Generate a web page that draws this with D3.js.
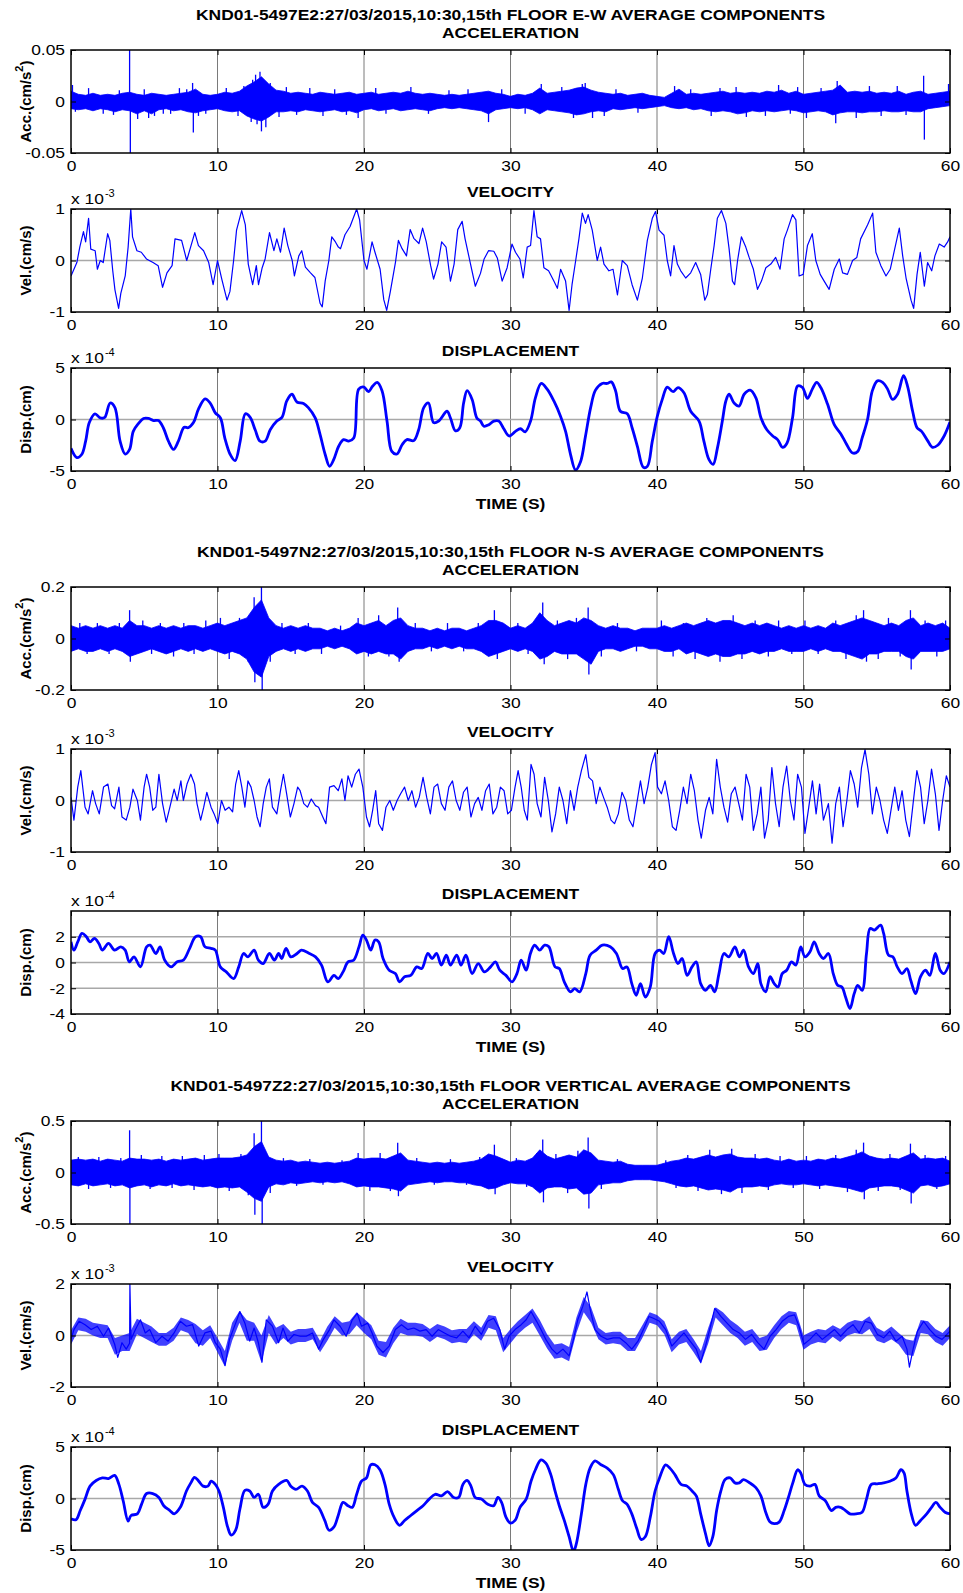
<!DOCTYPE html>
<html lang="en">
<head>
<meta charset="UTF-8">
<title>KND01-5497 15th floor average components</title>
<script src="https://d3js.org/d3.v7.min.js"></script>
<style>
  body { margin: 0; background: #fff; }
  text { font-family: "Liberation Sans", Arial, sans-serif; }
</style>
</head>
<body>
<script>
// ---------- data ----------
var xTicks = [0, 10, 20, 30, 40, 50, 60];
var xGrid = [10, 20, 30, 40, 50];

var titles = [
  "KND01-5497E2:27/03/2015,10:30,15th FLOOR E-W AVERAGE COMPONENTS",
  "KND01-5497N2:27/03/2015,10:30,15th FLOOR N-S AVERAGE COMPONENTS",
  "KND01-5497Z2:27/03/2015,10:30,15th FLOOR VERTICAL AVERAGE COMPONENTS"
];

// acceleration envelopes, one value every 0.5 s (0..60 s)
// E-W in units of 1e-3 cm/s2
var accEWhi = [10,7,6,8,6,7,6,8,9,7, 6,8,7,6,7,8,9,12,7,6, 7,9,8,10,15,19,24,17,11,10,
  8,9,8,7,9,8,7,8,9,7, 8,9,7,8,9,8,10,8,7,8, 7,6,7,6,7,8,9,10,8,7,
  5,7,6,8,13,8,9,10,11,13, 14,11,9,8,7,8,6,7,8,6, 5,4,8,12,7,8,7,8,9,10,
  8,9,8,9,8,10,9,11,8,10, 7,8,9,10,11,16,9,10,9,10, 8,9,8,10,7,9,10,7,8,9, 10];
var accEWlo = [-7,-8,-7,-9,-7,-8,-10,-8,-9,-12, -9,-12,-8,-7,-9,-8,-10,-11,-9,-8,
  -7,-9,-10,-9,-14,-17,-19,-15,-10,-10, -9,-10,-8,-9,-10,-9,-8,-10,-9,-11,
  -8,-7,-9,-8,-7,-9,-8,-7,-8,-9, -7,-6,-7,-6,-7,-8,-9,-12,-8,-7,
  -6,-7,-6,-8,-12,-8,-9,-10,-11,-13, -12,-10,-9,-10,-7,-8,-7,-6,-7,-6,
  -5,-4,-6,-7,-6,-8,-7,-9,-10,-9, -10,-12,-11,-9,-10,-9,-10,-9,-8,-9,
  -11,-10,-9,-10,-13,-11,-10,-10,-11,-10, -10,-9,-10,-10,-9,-10,-10,-7,-6,-5, -4];
var accEWspikes = [[0.1,16],[0.3,-10],[1.2,13],[2.2,-12],[2.9,-13],[3.3,11],[4.0,50],[4.05,-50],
  [4.55,-17],[5.0,12],[5.3,-16],[5.7,-14],[6.3,-12],[6.8,-12],[7.4,13],[7.9,12],[8.3,18],[8.35,-30],
  [8.7,-14],[9.2,-12],[10.6,13],[11.4,-14],[11.8,15],[12.3,-20],[12.4,21],[12.6,26],[12.7,-22],
  [12.9,29],[13.0,-29],[13.3,-25],[13.6,18],[14.2,-15],[14.7,14],[15.4,-13],[16.3,13],[17.2,-14],
  [18.0,12],[18.8,-13],[19.6,-16],[20.8,13],[21.5,-12],[23.2,14],[24.4,-12],[25.8,11],[27.1,12],
  [28.5,-20],[29.4,12],[31.0,-12],[32.1,17],[33.5,14],[34.3,-16],[34.9,17],[35.1,18],[35.6,-16],
  [36.4,-14],[37.2,12],[38.7,-11],[41.2,15],[42.3,12],[43.7,-14],[44.3,13],[45.4,14],[46.1,-15],
  [47.4,-14],[48.3,16],[49.1,-12],[49.6,14],[50.2,-16],[51.2,13],[52.2,-21],[52.3,20],[53.6,-16],
  [54.5,15],[55.3,-14],[56.4,15],[57.0,-13],[58.2,25],[58.25,-37],[59.9,17]];

// N-S in units of 1e-2 cm/s2
var accNShi = [5,4,5,4,5,4,5,4,7,5, 5,4,5,4,5,4,5,5,4,5, 6,5,6,7,8,12,15,8,5,4,
  5,4,5,4,4,3,4,3,4,6, 5,6,7,5,7,8,5,4,4,3, 4,3,4,4,3,4,5,7,7,6,
  4,5,4,6,10,7,5,6,7,6, 8,7,5,4,5,4,4,3,4,4, 4,5,4,5,6,5,6,7,6,7,
  7,6,5,6,5,6,5,4,5,4, 5,4,5,4,6,5,6,7,8,7, 6,5,6,5,7,8,5,6,5,6, 4];
var accNSlo = [-5,-4,-5,-5,-4,-5,-4,-5,-7,-6, -5,-4,-5,-6,-5,-4,-5,-4,-5,-4,
  -5,-6,-5,-6,-8,-13,-15,-7,-5,-4, -5,-4,-5,-4,-4,-3,-4,-3,-4,-6,
  -5,-6,-5,-6,-6,-8,-5,-4,-4,-3, -4,-3,-4,-3,-4,-4,-5,-7,-6,-5,
  -4,-5,-4,-5,-8,-7,-5,-6,-6,-6, -8,-10,-5,-4,-4,-5,-4,-3,-3,-4,
  -4,-5,-5,-4,-6,-5,-6,-7,-6,-7, -7,-6,-6,-5,-6,-5,-5,-4,-5,-5,
  -5,-4,-5,-4,-5,-5,-6,-7,-8,-6, -6,-5,-5,-5,-7,-8,-5,-5,-5,-5, -4];
var accNSspikes = [[0.6,6],[1.1,-6],[1.8,6],[2.6,-6],[3.3,6],[4.0,11],[4.05,-9],[4.9,7],[5.5,-6],
  [6.1,6],[7.0,-7],[7.7,6],[8.4,-6],[9.2,7],[10.2,8],[10.8,-8],[11.5,8],[12.1,-9],[12.5,16],
  [12.55,-17],[13.0,20],[13.05,-20],[13.6,-9],[14.4,6],[15.3,-6],[16.2,6],[17.1,-6],[18.4,5],
  [19.6,8],[20.3,-7],[21.0,9],[21.7,-7],[22.3,12],[22.4,-9],[23.5,6],[24.6,-5],[25.7,6],[26.8,-5],
  [27.8,6],[28.9,11],[29.1,-8],[30.5,6],[31.2,-6],[31.8,8],[32.2,14],[32.3,-10],[33.2,7],[33.9,-8],
  [34.5,8],[35.3,12],[35.35,-14],[36.2,-7],[37.3,6],[38.6,-5],[40.3,7],[41.1,-7],[41.8,6],[42.6,-8],
  [43.4,8],[44.3,-9],[45.2,9],[45.8,-8],[46.7,7],[47.6,-7],[48.3,7],[49.2,-6],[50.1,7],[51.0,-6],
  [52.2,7],[52.9,-8],[53.6,9],[54.1,11],[54.3,-9],[55.1,-8],[55.8,8],[56.6,-7],[57.3,11],[57.35,-12],
  [58.3,7],[59.1,-7],[59.7,7]];

// vertical in units of 1e-2 cm/s2
var accZhi = [12,13,12,13,11,13,12,11,14,13, 13,12,13,11,13,12,13,14,12,13,
  14,14,14,15,17,25,30,15,12,11, 12,10,11,10,9,10,9,10,11,14,
  13,14,14,13,16,19,12,11,10,9, 10,9,10,9,10,11,13,18,16,13,
  10,12,11,14,22,16,13,15,17,15, 22,19,12,11,10,11,8,7,7,7,
  7,9,11,12,14,13,15,17,15,17, 18,15,14,14,13,14,12,11,13,11,
  12,11,13,12,14,13,15,17,20,16, 14,13,14,13,16,19,13,14,13,14, 11];
var accZlo = [-12,-13,-11,-13,-12,-11,-13,-12,-15,-13, -12,-14,-12,-13,-11,-13,-12,-13,-14,-13,
  -15,-14,-15,-14,-19,-25,-28,-14,-11,-12, -10,-11,-10,-9,-10,-9,-10,-9,-11,-14,
  -13,-14,-14,-15,-16,-18,-12,-11,-10,-9, -10,-9,-9,-10,-10,-12,-13,-16,-15,-12,
  -10,-11,-11,-14,-20,-15,-14,-14,-16,-15, -21,-20,-12,-11,-10,-10,-8,-7,-7,-7,
  -8,-9,-11,-13,-14,-13,-15,-17,-16,-17, -19,-15,-14,-14,-13,-14,-12,-11,-12,-12,
  -11,-12,-13,-12,-13,-14,-15,-17,-19,-15, -14,-13,-13,-14,-17,-20,-13,-12,-14,-13, -11];
var accZspikes = [[0.5,15],[1.2,-16],[1.9,15],[2.7,-15],[3.4,14],[4.0,41],[4.02,-50],[4.8,17],
  [5.4,-16],[6.2,16],[6.9,-15],[7.6,16],[8.4,-17],[9.1,17],[10.1,18],[10.8,-18],[11.6,18],[12.1,-22],
  [12.5,38],[12.55,-41],[13.0,50],[13.05,-50],[13.6,-20],[14.5,14],[15.4,-13],[16.3,13],[17.2,-12],
  [18.5,12],[19.6,19],[20.4,-18],[21.1,19],[21.8,-18],[22.3,29],[22.35,-23],[23.6,14],[24.8,-12],
  [25.9,13],[27.0,-12],[27.9,15],[28.9,27],[28.95,-21],[30.4,14],[31.1,-14],[31.8,19],[32.2,32],
  [32.25,-29],[33.1,18],[33.9,-20],[34.6,21],[35.3,34],[35.35,-35],[36.2,-16],[37.3,13],[40.6,12],
  [41.3,-15],[42.1,17],[42.8,-18],[43.6,22],[44.4,-21],[45.1,23],[45.8,-20],[46.7,18],[47.6,-17],
  [48.4,16],[49.3,-15],[50.2,16],[51.1,-16],[52.2,17],[53.0,-19],[53.6,22],[54.1,29],[54.15,-26],
  [55.1,-18],[55.9,18],[56.6,-17],[57.3,28],[57.35,-30],[58.3,17],[59.1,-16],[59.7,16]];

// velocity [t (s), v (x1e-3 cm/s)]
var velEW = [[0,-0.3],[0.4,-0.04],[0.6,0.26],[0.85,0.56],[1.0,0.36],[1.2,0.82],[1.35,0.22],[1.65,0.19],
  [1.8,-0.17],[2.0,0],[2.2,-0.04],[2.5,0.52],[2.65,0.39],[2.85,-0.2],[3.0,-0.57],[3.25,-0.93],[3.4,-0.64],
  [3.7,-0.3],[3.9,0.26],[4.08,1.0],[4.2,0.46],[4.5,0.19],[4.8,0.16],[5.15,0.03],[5.6,-0.04],[5.95,-0.1],
  [6.25,-0.52],[6.55,-0.24],[6.9,-0.1],[7.1,0.42],[7.55,0.39],[7.9,0],[8.45,0.54],[8.7,0.29],[9.05,0.19],
  [9.4,-0.04],[9.7,-0.47],[10.0,0],[10.3,-0.37],[10.65,-0.77],[10.85,-0.6],[11.1,0],[11.3,0.59],[11.65,0.97],
  [11.9,0.69],[12.1,-0.07],[12.4,-0.47],[12.65,-0.1],[12.8,-0.47],[13.05,-0.14],[13.25,0.03],[13.55,0.54],
  [13.85,0.19],[14.05,0.42],[14.3,0.16],[14.55,0.63],[14.8,0.29],[15.1,0],[15.25,-0.3],[15.55,0.09],
  [15.75,0.19],[16.0,-0.13],[16.35,-0.24],[16.65,-0.33],[17.0,-0.83],[17.15,-0.9],[17.35,-0.4],[17.6,0],
  [17.8,0.46],[18.05,0.36],[18.25,0.26],[18.4,0.23],[18.7,0.5],[19.05,0.66],[19.5,1.0],[19.7,0.79],[20.0,0],
  [20.2,-0.17],[20.55,0.36],[20.75,0.16],[21.1,-0.17],[21.35,-0.76],[21.55,-0.97],[21.8,-0.6],[22.15,-0.03],
  [22.35,0.39],[22.6,0.23],[22.9,0.09],[23.15,0.6],[23.4,0.43],[23.75,0.33],[24.0,0.63],[24.25,0.36],
  [24.55,-0.1],[24.75,-0.36],[25.05,-0.07],[25.3,0.36],[25.6,0.26],[25.9,-0.4],[26.15,-0.07],[26.4,0.6],
  [26.7,0.76],[26.9,0.42],[27.25,-0.04],[27.6,-0.5],[27.95,-0.25],[28.2,0.03],[28.5,0.19],[28.86,0.18],
  [29.1,0.05],[29.43,-0.4],[29.77,-0.14],[30.1,0.32],[30.34,0.16],[30.64,0.03],[30.87,-0.34],[31.14,0.26],
  [31.37,0.29],[31.6,0.97],[31.82,0.46],[32.05,0.42],[32.28,-0.14],[32.6,-0.2],[32.96,-0.4],[33.2,-0.54],
  [33.42,-0.17],[33.76,-0.4],[34.0,-0.97],[34.2,-0.47],[34.45,0],[34.67,0.42],[34.9,0.92],[35.12,0.72],
  [35.3,0.89],[35.58,0.59],[35.92,0],[36.15,0.26],[36.38,-0.07],[36.72,-0.2],[37.0,-0.17],[37.3,-0.67],
  [37.63,0],[37.97,-0.1],[38.3,-0.47],[38.66,-0.77],[39.0,-0.34],[39.34,0.39],[39.68,0.82],[39.9,0.95],
  [40.14,0.59],[40.48,0.49],[40.7,0],[40.93,-0.3],[41.16,0.29],[41.39,-0.07],[41.62,-0.2],[41.96,-0.34],
  [42.3,-0.24],[42.64,-0.04],[42.98,-0.27],[43.26,-0.77],[43.44,-0.66],[43.67,-0.17],[43.9,0.29],[44.12,0.82],
  [44.4,0.97],[44.7,0.72],[44.92,0.23],[45.15,-0.4],[45.3,-0.47],[45.5,0],[45.76,0.46],[46.06,0.26],
  [46.29,0.06],[46.58,-0.17],[46.86,-0.56],[47.13,-0.4],[47.43,-0.14],[47.77,-0.07],[48.1,0.06],[48.4,-0.17],
  [48.68,0.42],[48.9,0.59],[49.25,0.89],[49.48,0.79],[49.7,-0.3],[49.98,-0.27],[50.27,0.29],[50.6,0.52],
  [50.84,0],[51.14,-0.27],[51.41,-0.4],[51.75,-0.56],[52.1,-0.17],[52.44,0.03],[52.67,-0.24],[53.0,-0.27],
  [53.35,0],[53.64,0.06],[53.9,0.42],[54.37,0.69],[54.72,0.92],[54.94,0.16],[55.28,-0.1],[55.63,-0.3],
  [55.92,-0.17],[56.2,0.19],[56.54,0.63],[56.77,0.09],[57.0,-0.34],[57.34,-0.77],[57.52,-0.93],[57.75,-0.27],
  [57.97,0.16],[58.25,-0.5],[58.47,-0.04],[58.75,-0.2],[58.97,0.09],[59.27,0.32],[59.6,0.26],[59.84,0.36],[60,0.46]];

var velNS = [[0,0.06],[0.2,-0.38],[0.46,0.26],[0.67,0.58],[0.96,-0.13],[1.17,-0.26],[1.47,0.19],[1.68,-0.06],
  [1.93,-0.26],[2.22,0.26],[2.52,0.32],[2.77,-0.1],[2.98,-0.16],[3.27,0.26],[3.48,-0.32],[3.77,-0.38],
  [4.02,-0.13],[4.23,0.22],[4.53,0],[4.74,-0.38],[4.99,0.26],[5.16,0.51],[5.37,0.26],[5.58,-0.19],[5.79,-0.13],
  [6.0,0.51],[6.25,-0.06],[6.5,-0.42],[6.75,-0.13],[7.04,0.22],[7.25,0],[7.5,0.38],[7.67,0],[7.92,0.32],
  [8.18,0.51],[8.43,0.32],[8.6,-0.06],[8.85,-0.38],[9.06,-0.13],[9.27,0.16],[9.56,-0.13],[9.77,-0.26],
  [10.02,-0.45],[10.27,0],[10.52,-0.19],[10.78,-0.13],[11.03,-0.22],[11.24,0.32],[11.45,0.58],[11.66,0.26],
  [11.87,-0.13],[12.08,0.38],[12.29,0.26],[12.5,0],[12.7,-0.32],[12.91,-0.51],[13.12,-0.06],[13.33,0.26],
  [13.54,0.42],[13.75,-0.13],[14.05,-0.26],[14.3,0.19],[14.5,0.51],[14.72,0.13],[14.97,-0.32],[15.22,-0.06],
  [15.47,0.26],[15.64,0.19],[15.89,-0.06],[16.14,-0.13],[16.4,0.03],[16.69,-0.1],[16.9,-0.13],[17.19,-0.32],
  [17.4,-0.45],[17.65,0.26],[17.95,0.29],[18.24,0.19],[18.49,0.42],[18.7,0],[18.91,0.48],[19.16,0.26],
  [19.41,0.51],[19.66,0.61],[19.92,0.26],[20.17,-0.32],[20.38,-0.51],[20.59,-0.19],[20.8,0.19],[21.0,-0.45],
  [21.26,-0.58],[21.5,-0.13],[21.76,0],[22.0,-0.19],[22.26,0],[22.5,0.13],[22.77,0.26],[23.02,0],[23.27,0.19],
  [23.52,-0.13],[23.77,0.06],[24.03,0.45],[24.28,0.06],[24.53,-0.26],[24.78,0.26],[25.03,0.32],[25.28,-0.06],
  [25.53,-0.19],[25.79,0.26],[26.04,0.38],[26.29,0],[26.54,-0.19],[26.79,0.16],[27.04,0.26],[27.3,-0.32],
  [27.55,-0.06],[27.8,0.06],[28.05,-0.19],[28.3,0.19],[28.55,0.32],[28.8,-0.26],[29.06,-0.13],[29.31,0.26],
  [29.56,0.19],[29.81,-0.26],[30.06,-0.19],[30.31,0.26],[30.52,0.58],[30.73,0.26],[30.94,-0.19],[31.15,-0.38],
  [31.4,0.7],[31.61,0.51],[31.82,-0.06],[32.08,-0.32],[32.33,0.45],[32.58,0],[32.83,-0.61],[33.08,-0.26],
  [33.33,0.26],[33.58,0],[33.84,-0.45],[34.09,0.19],[34.34,-0.19],[34.59,0.26],[34.84,0.58],[35.14,0.89],
  [35.35,0.45],[35.6,0.38],[35.85,-0.06],[36.1,0.26],[36.35,0.06],[36.6,-0.13],[36.86,-0.38],[37.1,-0.45],
  [37.36,-0.26],[37.61,0.16],[37.86,0],[38.11,-0.38],[38.36,-0.51],[38.62,-0.06],[38.87,0.38],[39.12,-0.06],
  [39.37,0.26],[39.62,0.7],[39.87,0.93],[40.04,0.26],[40.3,0.13],[40.55,0.38],[40.8,0],[41.05,-0.51],
  [41.3,-0.58],[41.55,-0.19],[41.8,0.26],[42.05,-0.06],[42.3,0.51],[42.55,0.19],[42.8,-0.38],[43.02,-0.73],
  [43.31,-0.19],[43.56,0.06],[43.81,-0.26],[44.07,0.8],[44.32,0.26],[44.57,-0.13],[44.82,-0.42],[45.07,0.13],
  [45.33,0.26],[45.58,-0.06],[45.83,-0.38],[46.08,0.51],[46.33,0.26],[46.58,-0.58],[46.84,-0.26],[47.09,0.26],
  [47.34,-0.73],[47.59,-0.38],[47.84,0.64],[48.09,-0.06],[48.34,-0.51],[48.6,0.26],[48.85,0.67],[49.1,0],
  [49.35,-0.38],[49.6,0.51],[49.86,0.26],[50.1,-0.64],[50.36,-0.13],[50.61,0.38],[50.86,-0.26],[51.1,0.32],
  [51.36,-0.38],[51.7,-0.06],[51.95,-0.83],[52.2,-0.06],[52.45,0.26],[52.7,-0.51],[52.96,0],[53.2,0.58],
  [53.46,0.32],[53.7,-0.13],[53.96,0.64],[54.2,0.99],[54.46,0.51],[54.7,-0.26],[54.97,0.26],[55.22,0],
  [55.47,-0.38],[55.72,-0.64],[55.97,-0.19],[56.23,0.26],[56.48,-0.19],[56.73,0.19],[56.98,-0.38],[57.23,-0.7],
  [57.48,-0.06],[57.74,0.58],[57.99,0.26],[58.24,-0.45],[58.49,0],[58.74,0.61],[59.0,0.13],[59.25,-0.58],
  [59.5,0],[59.75,0.48],[60,0.26]];

var velZ = [[0,-0.15],[0.2,0.23],[0.55,0.55],[0.96,0.42],[1.38,0.23],[1.8,0.36],[2.22,-0.03],[2.56,0.29],
  [2.98,-0.34],[3.19,-0.85],[3.48,-0.28],[3.77,-0.53],[4.0,-0.3],[4.02,2.0],[4.1,-0.15],[4.4,0.23],[4.74,0.61],
  [5.07,0.1],[5.37,0.23],[5.79,-0.28],[6.21,-0.03],[6.63,-0.22],[7.04,0.1],[7.46,0.55],[7.88,0.36],[8.3,0.42],
  [8.72,-0.41],[9.14,0.1],[9.56,0.17],[9.85,-0.28],[10.19,-0.53],[10.52,-1.17],[10.82,-0.15],[11.24,0.48],
  [11.53,0.93],[11.87,0.48],[12.2,-0.22],[12.5,0.29],[12.79,-0.28],[13.04,-1.04],[13.33,0.61],[13.75,0.36],
  [14.17,-0.28],[14.47,0.29],[14.8,-0.22],[15.22,0.04],[15.64,-0.03],[16.06,-0.03],[16.48,0.1],[16.9,-0.53],
  [17.23,-0.15],[17.65,0.23],[17.95,0.61],[18.37,0.36],[18.78,-0.03],[19.2,0.61],[19.54,0.86],[19.83,0.36],
  [20.25,0.48],[20.55,0.1],[20.88,-0.41],[21.3,-0.66],[21.72,-0.41],[22.14,0.23],[22.56,0.42],[22.98,0.23],
  [23.4,0.29],[23.82,0.17],[24.24,0.23],[24.65,-0.03],[25.07,0.23],[25.49,0.1],[25.91,-0.03],[26.33,-0.09],
  [26.75,0.17],[27.17,-0.09],[27.59,0.36],[28.01,0.04],[28.43,0.55],[28.85,0.67],[29.27,0.23],[29.6,-0.53],
  [29.9,-0.03],[30.31,0.23],[30.73,0.42],[31.07,0.61],[31.4,0.93],[31.78,0.55],[32.08,0.23],[32.41,-0.15],
  [32.83,-0.53],[33.17,-0.72],[33.58,-0.53],[34.0,-0.79],[34.3,-0.15],[34.59,0.61],[34.93,1.12],[35.22,1.69],
  [35.47,0.93],[35.77,0.23],[36.18,-0.03],[36.6,-0.15],[37.02,-0.09],[37.44,-0.09],[37.86,-0.28],[38.28,-0.53],
  [38.7,-0.22],[39.12,0.29],[39.45,0.74],[39.75,0.67],[40.17,0.55],[40.59,0.23],[41.01,-0.41],[41.43,-0.15],
  [41.84,0.1],[42.26,-0.22],[42.68,-0.53],[42.98,-1.04],[43.31,-0.41],[43.65,0.36],[43.94,1.05],[44.36,0.74],
  [44.78,0.48],[45.2,0.23],[45.62,0.1],[46.04,-0.15],[46.46,0.04],[46.88,-0.28],[47.3,-0.53],[47.72,-0.03],
  [48.13,0.23],[48.55,0.55],[48.97,0.74],[49.39,0.8],[49.69,0.36],[50.03,-0.34],[50.44,-0.15],[50.86,0.1],
  [51.28,-0.15],[51.7,0.04],[52.12,0.23],[52.54,-0.03],[52.96,0.23],[53.38,0.42],[53.8,0.1],[54.21,0.55],
  [54.63,0.48],[55.05,0.04],[55.47,-0.09],[55.89,0.17],[56.31,-0.22],[56.73,-0.03],[57.06,-0.53],[57.23,-1.23],
  [57.48,-0.53],[57.78,0.17],[58.2,0.55],[58.62,0.23],[59.04,-0.03],[59.46,-0.15],[60,0.17]];

// upper / lower edge of the jittery vertical velocity trace, every 0.5 s (x1e-3 cm/s)
var velZhi = [0.2,0.7,0.65,0.5,0.45,0.4,-0.1,0.0,0.1,0.65, 0.5,0.35,0.1,0.1,0.3,0.7,0.6,0.45,0.2,0.4,
  -0.1,-0.6,0.5,0.95,0.6,0.5,0.0,0.8,0.3,0.45, 0.15,0.25,0.25,0.3,-0.2,0.35,0.75,0.5,0.55,0.9,
  0.65,0.4,-0.2,-0.25,0.3,0.65,0.5,0.5,0.45,0.25, 0.45,0.35,0.2,0.25,0.25,0.55,0.3,0.8,0.75,-0.1,
  0.25,0.55,0.8,1.05,0.6,0.05,-0.35,-0.3,-0.45,0.7, 1.5,1.1,0.3,0.1,0.15,0.15,-0.1,-0.1,0.4,0.9,
  0.8,0.55,-0.15,0.15,0.25,-0.15,-0.6,0.3,1.1,0.9, 0.6,0.4,0.15,0.25,-0.1,0.0,0.4,0.75,0.95,0.9,
  0.0,0.15,0.25,0.2,0.4,0.25,0.5,0.6,0.55,0.75, 0.3,0.15,0.35,0.1,-0.15,-0.2,0.6,0.55,0.25,0.1, 0.4];
var velZlo = [-0.35,0.2,0.15,0.0,-0.1,-0.1,-0.75,-0.6,-0.6,0.05, -0.1,-0.25,-0.4,-0.4,-0.2,0.2,0.1,-0.3,-0.4,-0.1,
  -0.65,-1.2,-0.2,0.5,-0.2,-0.2,-1.05,0.1,-0.35,-0.1, -0.35,-0.25,-0.25,-0.15,-0.65,-0.2,0.3,0.0,0.05,0.4,
  0.1,-0.15,-0.75,-0.85,-0.3,0.1,0.0,0.0,-0.05,-0.25, -0.05,-0.15,-0.3,-0.25,-0.3,0.05,-0.2,0.3,0.2,-0.65,
  -0.3,0.05,0.3,0.5,0.0,-0.5,-0.9,-0.85,-1.0,0.1, 0.9,0.5,-0.15,-0.35,-0.3,-0.35,-0.6,-0.6,-0.1,0.5,
  0.4,0.05,-0.65,-0.35,-0.25,-0.65,-1.1,-0.3,0.7,0.4, 0.1,-0.1,-0.4,-0.25,-0.6,-0.55,-0.1,0.25,0.5,0.4,
  -0.55,-0.35,-0.25,-0.3,-0.05,-0.25,0.0,0.1,0.05,0.25, -0.2,-0.3,-0.15,-0.35,-0.75,-0.8,0.1,0.05,-0.25,-0.4, -0.1];

// displacement [t (s), d (x1e-4 cm)]
var dispEW = [[0,-2.8],[0.4,-3.7],[0.73,-3.4],[1.0,-2.1],[1.25,-0.3],[1.64,0.55],[2.0,0.15],[2.3,0.2],
  [2.67,1.6],[3.0,1.15],[3.35,-2.1],[3.7,-3.35],[4.0,-2.9],[4.25,-1.15],[4.6,-0.4],[4.95,0.1],[5.3,0.1],
  [5.63,-0.1],[5.97,-0.1],[6.3,-0.8],[6.65,-2.1],[7.0,-2.9],[7.33,-2.1],[7.72,-0.75],[8.0,-0.8],[8.36,-0.3],
  [8.7,1.0],[9.15,2.0],[9.5,1.6],[9.85,0.65],[10.2,0.15],[10.5,-1.8],[10.87,-3.4],[11.2,-4.0],[11.55,-2.1],
  [11.9,0.55],[12.23,0.2],[12.57,-1.0],[12.9,-2.1],[13.25,-2.1],[13.6,-1.0],[14.05,-0.15],[14.4,0.2],
  [14.73,1.8],[15.08,2.45],[15.42,1.7],[15.87,1.55],[16.2,1.15],[16.67,0.15],[17.0,-1.45],[17.35,-3.4],
  [17.65,-4.55],[17.93,-3.9],[18.27,-2.6],[18.6,-1.95],[18.95,-2.1],[19.3,-1.8],[19.64,2.95],[20.0,3.15],
  [20.3,2.7],[20.6,3.25],[20.9,3.6],[21.23,2.8],[21.57,-0.15],[21.9,-3.1],[22.25,-3.35],[22.6,-2.45],
  [22.93,-1.95],[23.4,-2.05],[23.73,-1.0],[24.08,1.15],[24.4,1.6],[24.75,-0.3],[25.1,-0.15],[25.67,0.8],
  [25.9,0.15],[26.24,-1.1],[26.54,-0.8],[26.8,1.6],[27.04,2.8],[27.38,1.95],[27.7,0.15],[27.95,-0.15],
  [28.18,-0.65],[28.52,-0.5],[28.86,-0.15],[29.2,-0.15],[29.54,-0.9],[29.9,-1.6],[30.34,-1.15],[30.68,-0.9],
  [31.0,-1.2],[31.37,-0.15],[31.7,2.1],[32.1,3.5],[32.5,2.95],[32.96,1.8],[33.42,0.3],[33.76,-1.15],[34.1,-3.4],
  [34.44,-4.9],[34.78,-4.1],[35.12,-1.6],[35.47,1.15],[35.8,2.85],[36.26,3.5],[36.6,3.5],[36.88,3.65],
  [37.17,2.8],[37.5,0.8],[37.97,0.55],[38.3,-0.8],[38.66,-2.6],[39.07,-4.65],[39.34,-4.55],[39.68,-2.1],
  [40.02,0.3],[40.36,1.95],[40.7,3.15],[41.1,2.7],[41.43,3.1],[41.84,2.6],[42.3,0.8],[42.87,-0.15],[43.2,-2.1],
  [43.55,-3.9],[43.83,-4.35],[44.12,-2.8],[44.46,-0.15],[44.7,1.8],[44.92,2.45],[45.26,1.6],[45.6,1.3],
  [45.95,2.45],[46.36,2.85],[46.75,2.1],[47.1,0.15],[47.5,-1.0],[47.9,-1.6],[48.23,-1.95],[48.57,-2.7],
  [48.87,-2.3],[49.25,0.15],[49.6,3.25],[49.93,3.1],[50.27,2.05],[50.6,2.95],[50.9,3.6],[51.18,3.1],
  [51.64,1.5],[52.1,-0.5],[52.55,-1.4],[52.9,-2.3],[53.35,-3.25],[53.7,-3.1],[54.0,-1.8],[54.37,0],[54.7,2.8],
  [55.05,3.75],[55.4,3.6],[55.74,2.95],[56.08,1.95],[56.42,2.45],[56.83,4.25],[57.1,3.25],[57.45,0.8],
  [57.75,-0.8],[58.06,-1.15],[58.47,-2.05],[58.8,-2.7],[59.16,-2.5],[59.6,-1.6],[60,-0.25]];

var dispNS = [[0,1.6],[0.2,0.96],[0.46,1.6],[0.75,2.26],[1.05,2.0],[1.3,1.6],[1.6,1.87],[1.9,1.48],[2.14,0.96],
  [2.56,1.48],[2.98,0.96],[3.4,1.22],[3.7,0.96],[3.98,0.05],[4.3,0.44],[4.74,-0.34],[5.16,1.22],[5.4,1.35],
  [5.79,0.7],[6.08,1.22],[6.4,0.18],[6.83,-0.34],[7.25,0.05],[7.67,0.18],[8.1,1.1],[8.5,2.0],[8.85,2.0],
  [9.14,1.22],[9.56,1.1],[9.85,0.96],[10.19,-0.34],[10.6,-0.73],[11.1,-1.25],[11.45,-0.34],[11.78,0.7],
  [12.08,0.44],[12.5,0.96],[12.79,0.18],[13.12,-0.08],[13.54,0.7],[13.88,0.18],[14.17,0.7],[14.38,0.31],
  [14.68,1.1],[15.0,0.44],[15.43,0.7],[15.72,0.96],[16.27,0.7],[16.69,0.44],[17.1,-0.2],[17.53,-1.5],
  [17.95,-1.0],[18.24,-1.25],[18.57,-0.73],[18.91,0.05],[19.29,0.18],[19.66,1.22],[19.92,2.13],[20.17,1.74],
  [20.46,0.96],[20.75,1.74],[21.0,1.6],[21.3,0.31],[21.72,-0.6],[22.14,-0.86],[22.43,-1.5],[22.77,-1.1],
  [23.19,-1.0],[23.6,-0.34],[23.94,-0.47],[24.36,0.7],[24.65,0.31],[24.95,0.7],[25.28,-0.2],[25.62,0.57],
  [25.9,-0.2],[26.33,0.57],[26.62,-0.2],[26.96,0.57],[27.38,-0.86],[27.8,-0.08],[28.22,-0.73],[28.64,-0.34],
  [28.97,0.05],[29.27,-0.6],[29.69,-1.0],[30.1,-1.5],[30.44,-0.86],[30.73,0.18],[31.07,-0.6],[31.36,0.7],
  [31.65,1.35],[31.99,0.96],[32.33,1.35],[32.62,1.22],[33.04,-0.34],[33.33,-0.47],[33.67,-1.5],[34.09,-2.28],
  [34.38,-2.03],[34.72,-2.28],[35.14,-0.86],[35.43,0.57],[35.85,0.96],[36.27,1.35],[36.81,1.22],[37.23,0.7],
  [37.65,-0.47],[37.95,-0.34],[38.28,-1.64],[38.58,-2.55],[38.87,-1.64],[39.2,-2.68],[39.54,-1.9],[39.87,0.7],
  [40.17,0.96],[40.46,0.7],[40.8,2.0],[41.13,0.7],[41.43,-0.08],[41.72,0.31],[42.05,-1.0],[42.39,-0.34],
  [42.68,0.05],[42.98,-1.64],[43.31,-2.16],[43.65,-1.77],[43.94,-2.28],[44.23,-0.86],[44.57,0.7],[44.9,0.44],
  [45.32,1.22],[45.62,0.44],[45.91,0.96],[46.25,-0.34],[46.58,-0.86],[46.88,-0.08],[47.09,-1.64],[47.42,-2.28],
  [47.72,-1.1],[48.0,-1.64],[48.26,-1.9],[48.55,-0.86],[48.85,-0.6],[49.18,0.05],[49.48,-0.2],[49.81,1.22],
  [50.1,0.44],[50.44,0.83],[50.73,1.6],[51.07,0.7],[51.36,0.31],[51.7,0.7],[52.03,-0.86],[52.33,-1.77],
  [52.62,-1.9],[52.87,-2.68],[53.17,-3.58],[53.46,-2.42],[53.7,-1.77],[54.0,-2.16],[54.3,0.7],[54.55,2.65],
  [54.84,2.52],[55.26,2.9],[55.47,2.26],[55.8,0.57],[56.1,0.44],[56.4,-0.34],[56.73,-0.86],[57.06,-0.47],
  [57.32,-1.38],[57.65,-2.42],[57.99,-1.1],[58.33,-0.6],[58.62,-1.0],[59.0,0.7],[59.33,-0.6],[59.58,-0.86],[60,0.05]];

var dispZ = [[0,-1.97],[0.34,-2.06],[0.63,-1.17],[0.96,-0.06],[1.3,1.2],[1.72,1.75],[2.14,2.0],[2.56,1.94],
  [2.98,2.25],[3.27,1.37],[3.56,-0.22],[3.9,-2.19],[4.1,-1.65],[4.53,-1.49],[4.82,-0.54],[5.16,0.48],[5.58,0.48],
  [6.0,0.1],[6.33,-0.7],[6.75,-1.17],[7.04,-1.49],[7.46,-0.86],[7.88,0.73],[8.18,1.52],[8.43,2.06],[8.72,1.68],
  [9.02,1.2],[9.35,1.2],[9.56,1.68],[9.85,1.37],[10.1,0.73],[10.4,-0.86],[10.69,-2.76],[10.94,-3.56],
  [11.24,-3.08],[11.53,-1.02],[11.87,0.79],[12.2,0.73],[12.5,0.1],[12.79,0.41],[13.12,-0.86],[13.46,-0.54],
  [13.75,0.73],[14.17,1.37],[14.72,1.75],[15.0,1.2],[15.35,0.89],[15.77,1.2],[16.14,0.73],[16.48,-0.38],
  [16.9,-0.86],[17.32,-2.13],[17.61,-3.08],[17.95,-2.76],[18.24,-1.65],[18.57,-0.38],[18.91,-0.7],[19.2,-0.86],
  [19.5,0.41],[19.83,1.68],[20.17,2.0],[20.46,3.27],[20.75,3.27],[21.09,2.79],[21.43,1.37],[21.72,-0.54],
  [22.05,-1.81],[22.43,-2.6],[22.77,-2.13],[23.19,-1.65],[23.61,-1.17],[24.03,-0.7],[24.45,-0.06],[24.86,0.41],
  [25.28,0.25],[25.7,0.67],[26.12,0.1],[26.46,0.1],[26.75,1.37],[27.04,1.75],[27.3,1.2],[27.59,0.1],[28.01,-0.06],
  [28.43,-0.54],[28.85,-0.7],[29.14,0.1],[29.39,-0.38],[29.69,-1.81],[29.98,-2.38],[30.31,-2.13],[30.65,-0.86],
  [31.07,-0.06],[31.4,1.68],[31.7,2.79],[32.08,3.75],[32.41,3.43],[32.75,2.32],[33.04,0.73],[33.33,-0.7],
  [33.67,-2.13],[34.0,-3.71],[34.3,-5.14],[34.5,-4.35],[34.84,-1.49],[35.14,1.37],[35.43,2.95],[35.77,3.65],
  [36.18,3.27],[36.6,2.95],[37.02,2.32],[37.36,0.89],[37.65,-0.22],[37.95,-0.54],[38.28,-1.49],[38.62,-2.92],
  [38.91,-3.97],[39.2,-3.71],[39.54,-1.81],[39.87,0.73],[40.17,2.0],[40.59,3.27],[40.88,2.95],[41.22,2.32],
  [41.64,1.37],[42.05,1.2],[42.39,0.73],[42.68,0.25],[42.98,-1.49],[43.31,-3.4],[43.56,-4.6],[43.81,-3.71],
  [44.07,-1.17],[44.36,0.73],[44.65,1.84],[44.99,2.0],[45.32,1.52],[45.62,1.52],[45.91,1.84],[46.33,1.52],
  [46.75,1.05],[47.09,0.25],[47.42,-1.33],[47.72,-2.29],[48.0,-2.44],[48.34,-2.29],[48.68,-1.17],[48.97,0.1],
  [49.27,1.52],[49.6,2.79],[49.81,2.48],[50.1,1.37],[50.44,1.2],[50.78,1.37],[51.07,0.25],[51.49,-0.22],
  [51.91,-1.17],[52.2,-0.86],[52.54,-0.86],[52.87,-1.17],[53.17,-1.49],[53.59,-1.49],[54.0,-1.33],[54.3,-0.06],
  [54.63,1.37],[55.05,1.43],[55.47,1.52],[55.89,1.68],[56.31,2.0],[56.65,2.79],[56.86,2.48],[57.06,0.73],
  [57.36,-1.49],[57.65,-2.6],[57.99,-2.13],[58.41,-1.49],[58.74,-0.86],[59.04,-0.38],[59.33,-0.86],[59.66,-1.33],[60,-1.49]];

// tick values / labels
var accEWTicks = [-50, 0, 50], accEWLabels = ["-0.05", "0", "0.05"];
var accNSTicks = [-20, 0, 20], accNSLabels = ["-0.2", "0", "0.2"];
var accZTicks = [-50, 0, 50], accZLabels = ["-0.5", "0", "0.5"];
var vel1Ticks = [-1, 0, 1], vel1Labels = ["-1", "0", "1"];
var vel2Ticks = [-2, 0, 2], vel2Labels = ["-2", "0", "2"];
var disp5Ticks = [-5, 0, 5], disp5Labels = ["-5", "0", "5"];
var disp4Ticks = [-4, -2, 0, 2], disp4Labels = ["-4", "-2", "0", "2"];

// ---------- layout ----------
var W = 963, H = 1593;
var left = 71, right = 950, ph = 103;
var stretch = 1.16; // the original picture is a bit wider than tall

var groups = [
  { title: titles[0], tl: 629, tops: [50, 209, 368],
    panels: [
      { kind: "acc", hi: accEWhi, lo: accEWlo, spikes: accEWspikes, dom: [-50, 50], ticks: accEWTicks, labels: accEWLabels, grid: [0] },
      { kind: "vel", data: velEW, dom: [-1, 1], ticks: vel1Ticks, labels: vel1Labels, grid: [0], exp: "-3" },
      { kind: "disp", data: dispEW, dom: [-5, 5], ticks: disp5Ticks, labels: disp5Labels, grid: [0], exp: "-4" } ] },
  { title: titles[1], tl: 627, tops: [587, 749, 911],
    panels: [
      { kind: "acc", hi: accNShi, lo: accNSlo, spikes: accNSspikes, dom: [-20, 20], ticks: accNSTicks, labels: accNSLabels, grid: [0] },
      { kind: "vel", data: velNS, dom: [-1, 1], ticks: vel1Ticks, labels: vel1Labels, grid: [0], exp: "-3" },
      { kind: "disp", data: dispNS, dom: [-4, 4], ticks: disp4Ticks, labels: disp4Labels, grid: [-2, 0, 2], exp: "-4" } ] },
  { title: titles[2], tl: 680, tops: [1121, 1284, 1447],
    panels: [
      { kind: "acc", hi: accZhi, lo: accZlo, spikes: accZspikes, dom: [-50, 50], ticks: accZTicks, labels: accZLabels, grid: [0] },
      { kind: "vel", data: velZ, band: [velZhi, velZlo], dom: [-2, 2], ticks: vel2Ticks, labels: vel2Labels, grid: [0], exp: "-3" },
      { kind: "disp", data: dispZ, dom: [-5, 5], ticks: disp5Ticks, labels: disp5Labels, grid: [0], exp: "-4" } ] }
];
var subTitles = { acc: "ACCELERATION", vel: "VELOCITY", disp: "DISPLACEMENT" };
var yLabels = { acc: "Acc.(cm/s", vel: "Vel.(cm/s)", disp: "Disp.(cm)" };

var svg = d3.select("body").append("svg")
    .attr("width", W).attr("height", H)
    .style("display", "block");

var x = d3.scaleLinear().domain([0, 60]).range([left, right]);
var cx = (left + right) / 2;

function widen(sel) {
  sel.each(function() {
    var w = this.getComputedTextLength();
    d3.select(this).attr("textLength", w * stretch).attr("lengthAdjust", "spacingAndGlyphs");
  });
}

function bandArea(y, lo) {
  var n = lo.length;
  return d3.area()
    .x(function(d, i) { return x(i * 60 / (n - 1)); })
    .y0(function(d, i) { return y(lo[i]); })
    .y1(function(d) { return y(d); });
}

function drawPanel(top, p, idx) {
  var y = d3.scaleLinear().domain(p.dom).range([top + ph, top]);
  var g = svg.append("g");
  var cid = "clip" + idx;
  svg.append("clipPath").attr("id", cid)
    .append("rect").attr("x", left).attr("y", top).attr("width", right - left).attr("height", ph);

  // grid
  g.selectAll(".vg").data(xGrid).enter().append("line")
    .attr("x1", function(d) { return x(d); }).attr("x2", function(d) { return x(d); })
    .attr("y1", top).attr("y2", top + ph)
    .attr("stroke", "#7a7a7a").attr("stroke-width", 1);
  g.selectAll(".hg").data(p.grid).enter().append("line")
    .attr("x1", left).attr("x2", right)
    .attr("y1", function(d) { return y(d); }).attr("y2", function(d) { return y(d); })
    .attr("stroke", "#a8a8a8").attr("stroke-width", 1.5);

  var dg = g.append("g").attr("clip-path", "url(#" + cid + ")");
  if (p.kind === "acc") {
    dg.append("path").datum(p.hi).attr("d", bandArea(y, p.lo))
      .attr("fill", "#0000ff").attr("stroke", "#0000ff").attr("stroke-width", 0.8);
    dg.selectAll(".spk").data(p.spikes).enter().append("line")
      .attr("x1", function(d) { return x(d[0]); }).attr("x2", function(d) { return x(d[0]); })
      .attr("y1", y(0)).attr("y2", function(d) { return y(d[1]); })
      .attr("stroke", "#0000ff").attr("stroke-width", 1.3);
  } else {
    if (p.band) {
      dg.append("path").datum(p.band[0]).attr("d", bandArea(y, p.band[1]))
        .attr("fill", "#0000ff").attr("fill-opacity", 0.75).attr("stroke", "none");
    }
    var line = d3.line()
      .x(function(d) { return x(d[0]); })
      .y(function(d) { return y(d[1]); })
      .curve(p.kind === "disp" ? d3.curveCatmullRom.alpha(0.5) : d3.curveLinear);
    dg.append("path").datum(p.data).attr("d", line)
      .attr("fill", "none").attr("stroke", "#0000ff")
      .attr("stroke-width", p.kind === "disp" ? 2.8 : 1.2)
      .attr("stroke-linejoin", "round");
  }

  // box
  g.append("rect").attr("x", left).attr("y", top).attr("width", right - left).attr("height", ph)
    .attr("fill", "none").attr("stroke", "#000").attr("stroke-width", 1.5);

  // axes, ticks pointing inward
  var bottom = g.append("g").attr("transform", "translate(0," + (top + ph) + ")")
    .call(d3.axisBottom(x).tickValues(xTicks).tickSize(-5).tickPadding(7).tickFormat(d3.format("d")));
  var topAx = g.append("g").attr("transform", "translate(0," + top + ")")
    .call(d3.axisTop(x).tickValues(xTicks).tickSize(-5).tickFormat(""));
  var leftAx = g.append("g").attr("transform", "translate(" + left + ",0)")
    .call(d3.axisLeft(y).tickValues(p.ticks).tickSize(-5).tickPadding(6)
      .tickFormat(function(d, i) { return p.labels[i]; }));
  var rightAx = g.append("g").attr("transform", "translate(" + right + ",0)")
    .call(d3.axisRight(y).tickValues(p.ticks).tickSize(-5).tickFormat(""));
  [bottom, topAx, leftAx, rightAx].forEach(function(a) {
    a.select(".domain").remove();
    a.selectAll("line").attr("stroke", "#000");
    a.selectAll("text").attr("font-family", "Liberation Sans, Arial, sans-serif")
      .attr("font-size", 15).attr("fill", "#000");
  });
  widen(bottom.selectAll("text"));
  widen(leftAx.selectAll("text"));

  // y label
  var yl = g.append("text")
    .attr("transform", "translate(25," + (top + ph / 2) + ") rotate(-90)")
    .attr("text-anchor", "middle").attr("dominant-baseline", "central")
    .attr("font-size", 15).attr("font-weight", "bold").text(yLabels[p.kind]);
  if (p.kind === "acc") {
    yl.append("tspan").attr("dy", -6).attr("font-size", 11).text("2");
    yl.append("tspan").attr("dy", 6).text(")");
  }

  // exponent label "x 10^-n"
  if (p.exp) {
    var ex = g.append("text").attr("x", left).attr("y", top - 5).attr("font-size", 15).text("x 10");
    var exW = ex.node().getComputedTextLength() * stretch;
    ex.attr("textLength", exW).attr("lengthAdjust", "spacingAndGlyphs");
    g.append("text").attr("x", left + exW + 1).attr("y", top - 12)
      .attr("font-size", 11).text(p.exp);
  }

  // panel title
  var st = g.append("text").attr("x", cx).attr("y", top - 12).attr("text-anchor", "middle")
    .attr("font-size", 15).attr("font-weight", "bold").text(subTitles[p.kind]);
  widen(st);
}

var k = 0;
groups.forEach(function(gr) {
  svg.append("text").attr("x", cx).attr("y", gr.tops[0] - 30).attr("text-anchor", "middle")
    .attr("font-size", 15).attr("font-weight", "bold")
    .attr("textLength", gr.tl).attr("lengthAdjust", "spacingAndGlyphs")
    .text(gr.title);
  gr.panels.forEach(function(p, i) {
    drawPanel(gr.tops[i], p, k++);
  });
  var tx = svg.append("text").attr("x", cx).attr("y", gr.tops[2] + ph + 38).attr("text-anchor", "middle")
    .attr("font-size", 15).attr("font-weight", "bold").text("TIME (S)");
  widen(tx);
});
</script>
</body>
</html>
